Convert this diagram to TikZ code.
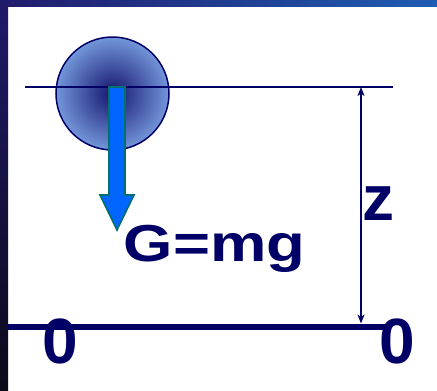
\documentclass[tikz,border=0pt]{standalone}
\usepackage{fontspec}
\setmainfont{Liberation Sans}
\newfontfamily\widefont{Liberation Sans}[FakeStretch=1.22]
\usepackage{tikz}
\usetikzlibrary{arrows.meta,positioning}
\definecolor{navy}{HTML}{000066}
\definecolor{ballin}{HTML}{15156C}
\definecolor{ballout}{HTML}{7396DA}
\definecolor{forceblue}{HTML}{0066FF}
\definecolor{forceedge}{HTML}{00706E}
\definecolor{topleft}{HTML}{221B6C}
\definecolor{topright}{HTML}{1E5DB2}
\definecolor{sidetop}{HTML}{201A6A}
\definecolor{sidebottom}{HTML}{0A0A18}
\tikzset{
  frametop/.style={left color=topleft, right color=topright, draw=none},
  frameleft/.style={top color=sidetop, bottom color=sidebottom, draw=none},
  refline/.style={draw=navy, line width=1.5pt},
  groundline/.style={draw=navy, line width=6pt},
  ball/.style={draw=navy, line width=1.5pt, inner color=ballin, outer color=ballout},
  force/.style={fill=forceblue, draw=forceedge, line width=1.6pt, line join=miter},
  dimline/.style={draw=navy, line width=1.3pt, {Stealth[length=9pt,width=7pt,inset=2.5pt]}-{Stealth[length=9pt,width=7pt,inset=2.5pt]}},
  bigsym/.style={text=navy, inner sep=0pt, font=\bfseries\fontsize{64}{64}\selectfont},
  forcelabel/.style={text=navy, inner sep=0pt, font=\widefont\bfseries\fontsize{52}{52}\selectfont}
}

\begin{document}
\begin{tikzpicture}[x=1pt,y=-1pt]
\useasboundingbox (0,0) rectangle (437,391);
\fill[white] (0,0) rectangle (437,391);
% frame of the slide
\shade[frametop] (0,0) rectangle (437,6);
\shade[frameleft] (0,0) rectangle (8,391);

\draw[ball] (112.5,93.5) circle (56.5);
\draw[refline] (25,87) -- (393,87);
\draw[groundline] (8,326.5) -- (390,326.5);

% weight of the ball
\draw[force] (109,87) -- (125,87) -- (125,195) -- (134,195) -- (117,230)
  -- (100,195) -- (109,195) -- cycle;

\coordinate (top) at (361,87);
\coordinate (bottom) at (361,323.5);
\draw[dimline] (top) -- (bottom);

\node[bigsym] (z) at (378.5,204) {z};
\node[forcelabel, anchor=base west] (G) at (123.5,261) {G=mg};
\node[bigsym] (zeroL) at (60.5,341.5) {0};
\node[bigsym] (zeroR) at (397.5,341.5) {0};
\end{tikzpicture}
\end{document}
